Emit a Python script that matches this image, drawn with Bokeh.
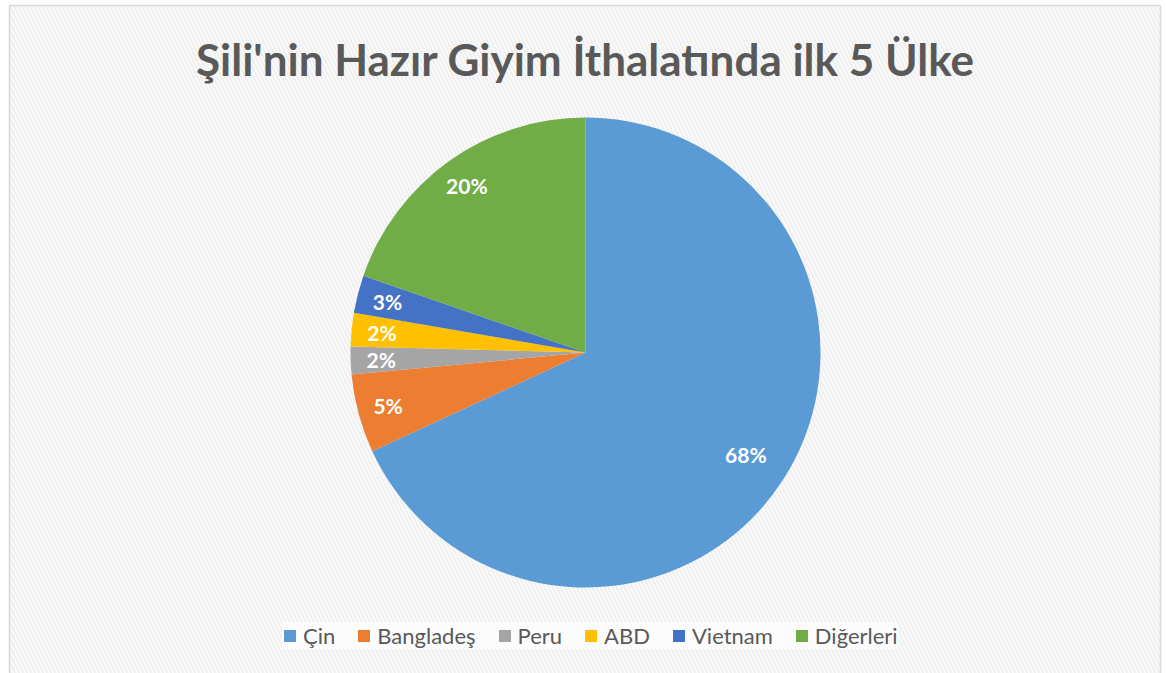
import math
from bokeh.plotting import figure
from bokeh.models import Range1d, Legend, LegendItem, ColumnDataSource
from bokeh.core.properties import value
from bokeh.embed import file_html
from bokeh.resources import INLINE

title = "Şili'nin Hazır Giyim İthalatında ilk 5 Ülke"
categories = ["Çin", "Bangladeş", "Peru", "ABD", "Vietnam", "Diğerleri"]
shares = [68.1, 5.4, 1.9, 2.3, 2.6, 19.7]
colors = ["#5B9BD5", "#ED7D31", "#A5A5A5", "#FFC000", "#4472C4", "#70AD47"]

W, H = 1166, 673
p = figure(width=W, height=H, output_backend="svg", toolbar_location=None,
           x_range=Range1d(0, W), y_range=Range1d(0, H), min_border=0)
p.axis.visible = False
p.grid.visible = False
p.outline_line_color = None
p.background_fill_color = "white"
p.border_fill_color = "white"

def Y(y):
    return H - y

# chart area background with diagonal hatch
p.quad(left=9, right=1160, top=Y(5), bottom=Y(690), fill_color="white",
       hatch_pattern="\\", hatch_color="#f0f0f0", hatch_scale=8, hatch_weight=2.5,
       line_color="#d9d9d9", line_width=1.5)

# title
p.text(x=[585], y=[Y(58)], text=[title], text_font=value("Lato"),
       text_font_style="bold", text_font_size="44px", text_color="#595959",
       text_align="center", text_baseline="middle")

# pie
cx, cy, R = 585, Y(352), 235
total = sum(shares)
starts, ends, lx, ly, labs = [], [], [], [], []
cum = 0.0
for s in shares:
    a0 = math.pi / 2 - 2 * math.pi * cum / total
    cum += s
    a1 = math.pi / 2 - 2 * math.pi * cum / total
    starts.append(a0)
    ends.append(a1)
    mid = (a0 + a1) / 2
    rf = 0.81 if s / total > 0.5 else 0.87
    lx.append(cx + rf * R * math.cos(mid))
    ly.append(cy + rf * R * math.sin(mid))
    labs.append(f"{int(s + 0.5)}%")

src = ColumnDataSource(dict(start=starts, end=ends, color=colors, cat=categories))
p.wedge(x=cx, y=cy, radius=R, start_angle="start", end_angle="end",
        direction="clock", fill_color="color", line_color=None, source=src)

p.text(x=lx, y=ly, text=labs, text_font=value("Lato"), text_font_style="bold",
       text_font_size="21px", text_color="white", text_align="center",
       text_baseline="middle")

# legend
items = []
for c, col in zip(categories, colors):
    r = p.quad(left=[-50], right=[-40], top=[-50], bottom=[-60], fill_color=col,
               line_color=None)
    items.append(LegendItem(label=c, renderers=[r]))
legend = Legend(items=items, orientation="horizontal", location=(282, Y(649)),
                glyph_width=15, glyph_height=15, label_standoff=6, spacing=21,
                label_text_font="Lato", label_text_font_size="22px",
                label_text_color="#595959", background_fill_color="white",
                background_fill_alpha=0.7, border_line_color=None, padding=12,
                margin=0)
p.add_layout(legend)

open("out.html", "w").write(file_html(p, INLINE))
